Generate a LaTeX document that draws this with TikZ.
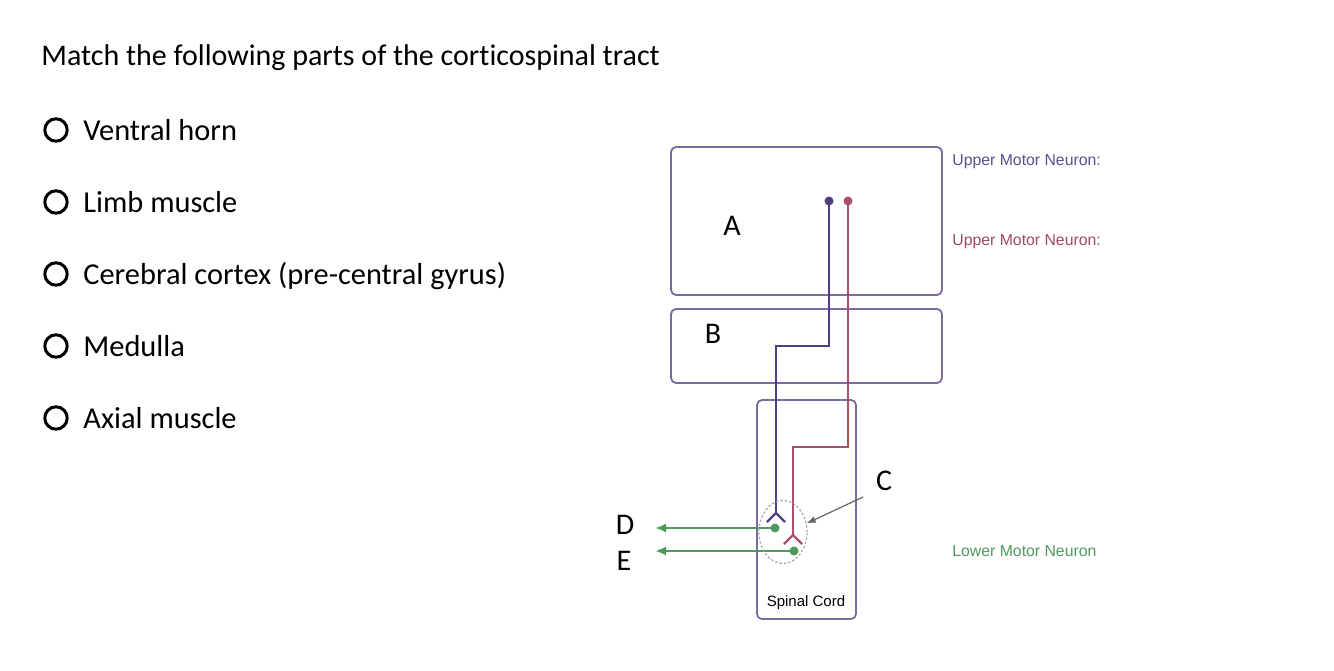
\documentclass[tikz,border=0pt]{standalone}
\usepackage{fontspec}
\setmainfont{Carlito}[Ligatures={NoCommon}]
\newfontfamily\arialfont{Liberation Sans}
\usetikzlibrary{shapes.geometric,arrows.meta,positioning,calc}

\definecolor{boxline}{HTML}{7B6BA0}
\definecolor{umnpurple}{HTML}{4F3F80}
\definecolor{umnred}{HTML}{AA5068}
\definecolor{lmngreen}{HTML}{4E9A5C}
\definecolor{tagpurple}{HTML}{5E4C8F}
\definecolor{tagred}{HTML}{A04868}

\begin{document}
\begin{tikzpicture}[
  x=0.5pt,y=-0.5pt,
  region/.style={draw=boxline,line width=0.9pt,rounded corners=2.5pt,inner sep=0pt},
  question/.style={anchor=base west,font=\fontsize{15}{17}\selectfont,inner sep=0pt},
  option/.style={anchor=base west,font=\fontsize{15.2}{17}\selectfont,inner sep=0pt},
  radio/.style={circle,draw=black,line width=1.5pt,minimum size=11.2pt,inner sep=0pt},
  letter/.style={font=\fontsize{15}{17}\selectfont,inner sep=0pt},
  tag/.style={anchor=west,font=\arialfont\fontsize{7.9}{9}\selectfont,inner sep=0pt},
  axon/.style={line width=1.1pt},
  soma/.style={circle,fill,inner sep=0pt,minimum size=4.5pt},
  motor/.style={lmngreen,line width=1.2pt,-{Latex[length=5.5pt,width=4.5pt]}},
  pointer/.style={gray!80!black,line width=0.6pt,-{Latex[length=4.5pt,width=3.5pt]}}
]
  \useasboundingbox (0,0) rectangle (1334,670);

  % question and choices
  \node[question] (q) at (41,65) {Match the following parts of the corticospinal tract};
  \foreach \y/\txt [count=\i] in {140/Ventral horn,212/Limb muscle,
      284/Cerebral cortex (pre-central gyrus),356/Medulla,428/Axial muscle}{
    \node[radio] (r\i) at (56,\y-10) {};
    \node[option] (o\i) at (83,\y) {\txt};
  }

  % regions
  \node[region,minimum width=135.5pt,minimum height=74pt] (cortex) at (806.5,221) {};
  \node[region,minimum width=135.5pt,minimum height=37pt] (medulla) at (806.5,346) {};
  \node[region,minimum width=49.5pt,minimum height=109.5pt] (cord) at (806.5,509.5) {};
  \node[letter] (la) at (732,226) {A};
  \node[letter] (lb) at (713,334) {B};
  \node[font=\arialfont\fontsize{7.5}{9}\selectfont] (cordlbl) at (806,603) {Spinal Cord};

  % upper motor neurons
  \node[soma,umnpurple] (p0) at (829,201) {};
  \coordinate (p1) at (829,346);
  \coordinate (p2) at (776,346);
  \coordinate (pt) at (776,513);
  \draw[axon,umnpurple] (p0.center) -- (p1) -- (p2) -- (pt);
  \draw[axon,umnpurple] (pt) -- ++(-9,9) (pt) -- ++(9,9);

  \node[soma,umnred] (q0) at (848,201) {};
  \coordinate (q1) at (848,447);
  \coordinate (q2) at (793,447);
  \coordinate (qt) at (793,535);
  \draw[axon,umnred] (q0.center) -- (q1) -- (q2) -- (qt);
  \draw[axon,umnred] (qt) -- ++(-9,9) (qt) -- ++(9,9);

  % lower motor neurons
  \node[soma,lmngreen] (m1) at (775,528) {};
  \node[soma,lmngreen] (m2) at (794,551) {};
  \coordinate (d1) at (655,528);
  \coordinate (e1) at (655,551);
  \draw[motor] (m1.center) -- (d1);
  \draw[motor] (m2.center) -- (e1);
  \node[letter] (ld) at (625,525) {D};
  \node[letter] (le) at (624,561) {E};

  % synapse
  \node[ellipse,draw=gray!70,dash pattern=on 1.2pt off 1pt,line width=0.6pt,
        minimum width=24pt,minimum height=31.5pt,inner sep=0pt] (syn) at (783,532) {};
  \node[letter] (lc) at (884,481) {C};
  \coordinate (ctail) at (863,497);
  \draw[pointer] (ctail) -- (syn.20);

  % legend
  \node[tag,text=tagpurple] (t1) at (952,162) {Upper Motor Neuron:};
  \node[tag,text=tagred] (t2) at (952,242) {Upper Motor Neuron:};
  \node[tag,text=lmngreen] (t3) at (952,551) {Lower Motor Neuron};
\end{tikzpicture}
\end{document}
